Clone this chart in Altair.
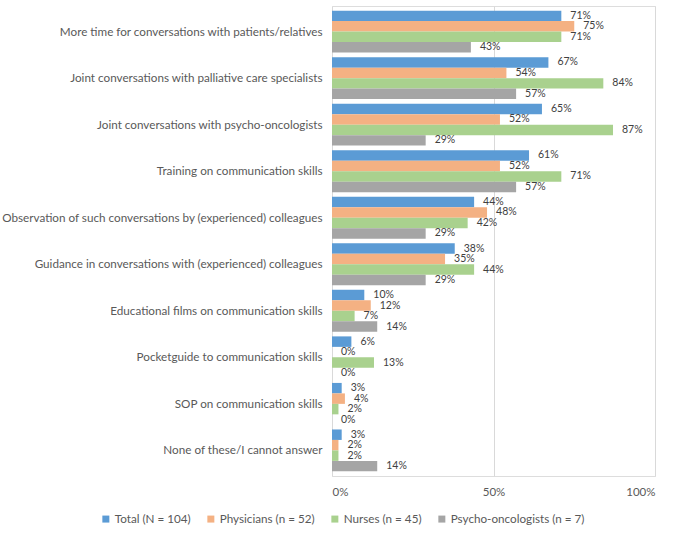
import altair as alt
import pandas as pd

categories = [
    "More time for conversations with patients/relatives",
    "Joint conversations with palliative care specialists",
    "Joint conversations with psycho-oncologists",
    "Training on communication skills",
    "Observation of such conversations by (experienced) colleagues",
    "Guidance in conversations with (experienced) colleagues",
    "Educational films on communication skills",
    "Pocketguide to communication skills",
    "SOP on communication skills",
    "None of these/I cannot answer",
]
groups = [
    "Total (N = 104)",
    "Physicians (n = 52)",
    "Nurses (n = 45)",
    "Psycho-oncologists (n = 7)",
]
total = [71, 67, 65, 61, 44, 38, 10, 6, 3, 3]
physicians = [75, 54, 52, 52, 48, 35, 12, 0, 4, 2]
nurses = [71, 84, 87, 71, 42, 44, 7, 13, 2, 2]
psycho = [43, 57, 29, 57, 29, 29, 14, 0, 0, 14]
colors = ["#5B9BD5", "#F4B183", "#A9D18E", "#A5A5A5"]

rows = []
for series, name in zip([total, physicians, nurses, psycho], groups):
    for cat, v in zip(categories, series):
        rows.append({"item": cat, "group": name, "share": v / 100})
df = pd.DataFrame(rows)

font = "Lato"
text_color = "#595959"

base = alt.Chart(df).encode(
    y=alt.Y(
        "item:N",
        sort=categories,
        title=None,
        scale=alt.Scale(paddingInner=0.1, paddingOuter=0.1),
        axis=alt.Axis(
            ticks=False,
            domain=False,
            labelPadding=10,
            labelLimit=400,
            labelFontSize=11.7,
            labelColor=text_color,
            labelFont=font,
        ),
    ),
    yOffset=alt.YOffset("group:N", sort=groups, scale=alt.Scale(paddingInner=0, paddingOuter=0)),
)

bars = base.mark_bar().encode(
    x=alt.X(
        "share:Q",
        title=None,
        scale=alt.Scale(domain=[0, 1]),
        axis=alt.Axis(
            values=[0, 0.5, 1],
            format=".0%",
            ticks=False,
            domain=False,
            grid=True,
            gridColor="#D9D9D9",
            labelPadding=10,
            labelFontSize=11.5,
            labelColor=text_color,
            labelFont=font,
        ),
    ),
    color=alt.Color(
        "group:N",
        sort=groups,
        scale=alt.Scale(domain=groups, range=colors),
        legend=alt.Legend(
            title=None,
            orient="none",
            direction="horizontal",
            legendX=-232,
            legendY=507,
            symbolType="square",
            symbolSize=49,
            symbolStrokeWidth=0,
            labelFontSize=11.7,
            labelColor=text_color,
            labelFont=font,
            labelOffset=3,
            columnPadding=14,
        ),
    ),
)

labels = base.mark_text(
    align="left", baseline="middle", dx=9, fontSize=10.5, color="#404040", font=font
).encode(
    x="share:Q",
    text=alt.Text("share:Q", format=".0%"),
)

chart = (
    alt.layer(bars, labels)
    .properties(
        width=323,
        height=470,
        autosize=alt.AutoSizeParams(type="none"),
        padding={"left": 332, "top": 6, "right": 26, "bottom": 60},
    )
    .configure_view(stroke=None)
    .configure(background="white")
)

chart.save("out.html", embed_options={"renderer": "svg", "actions": False})
